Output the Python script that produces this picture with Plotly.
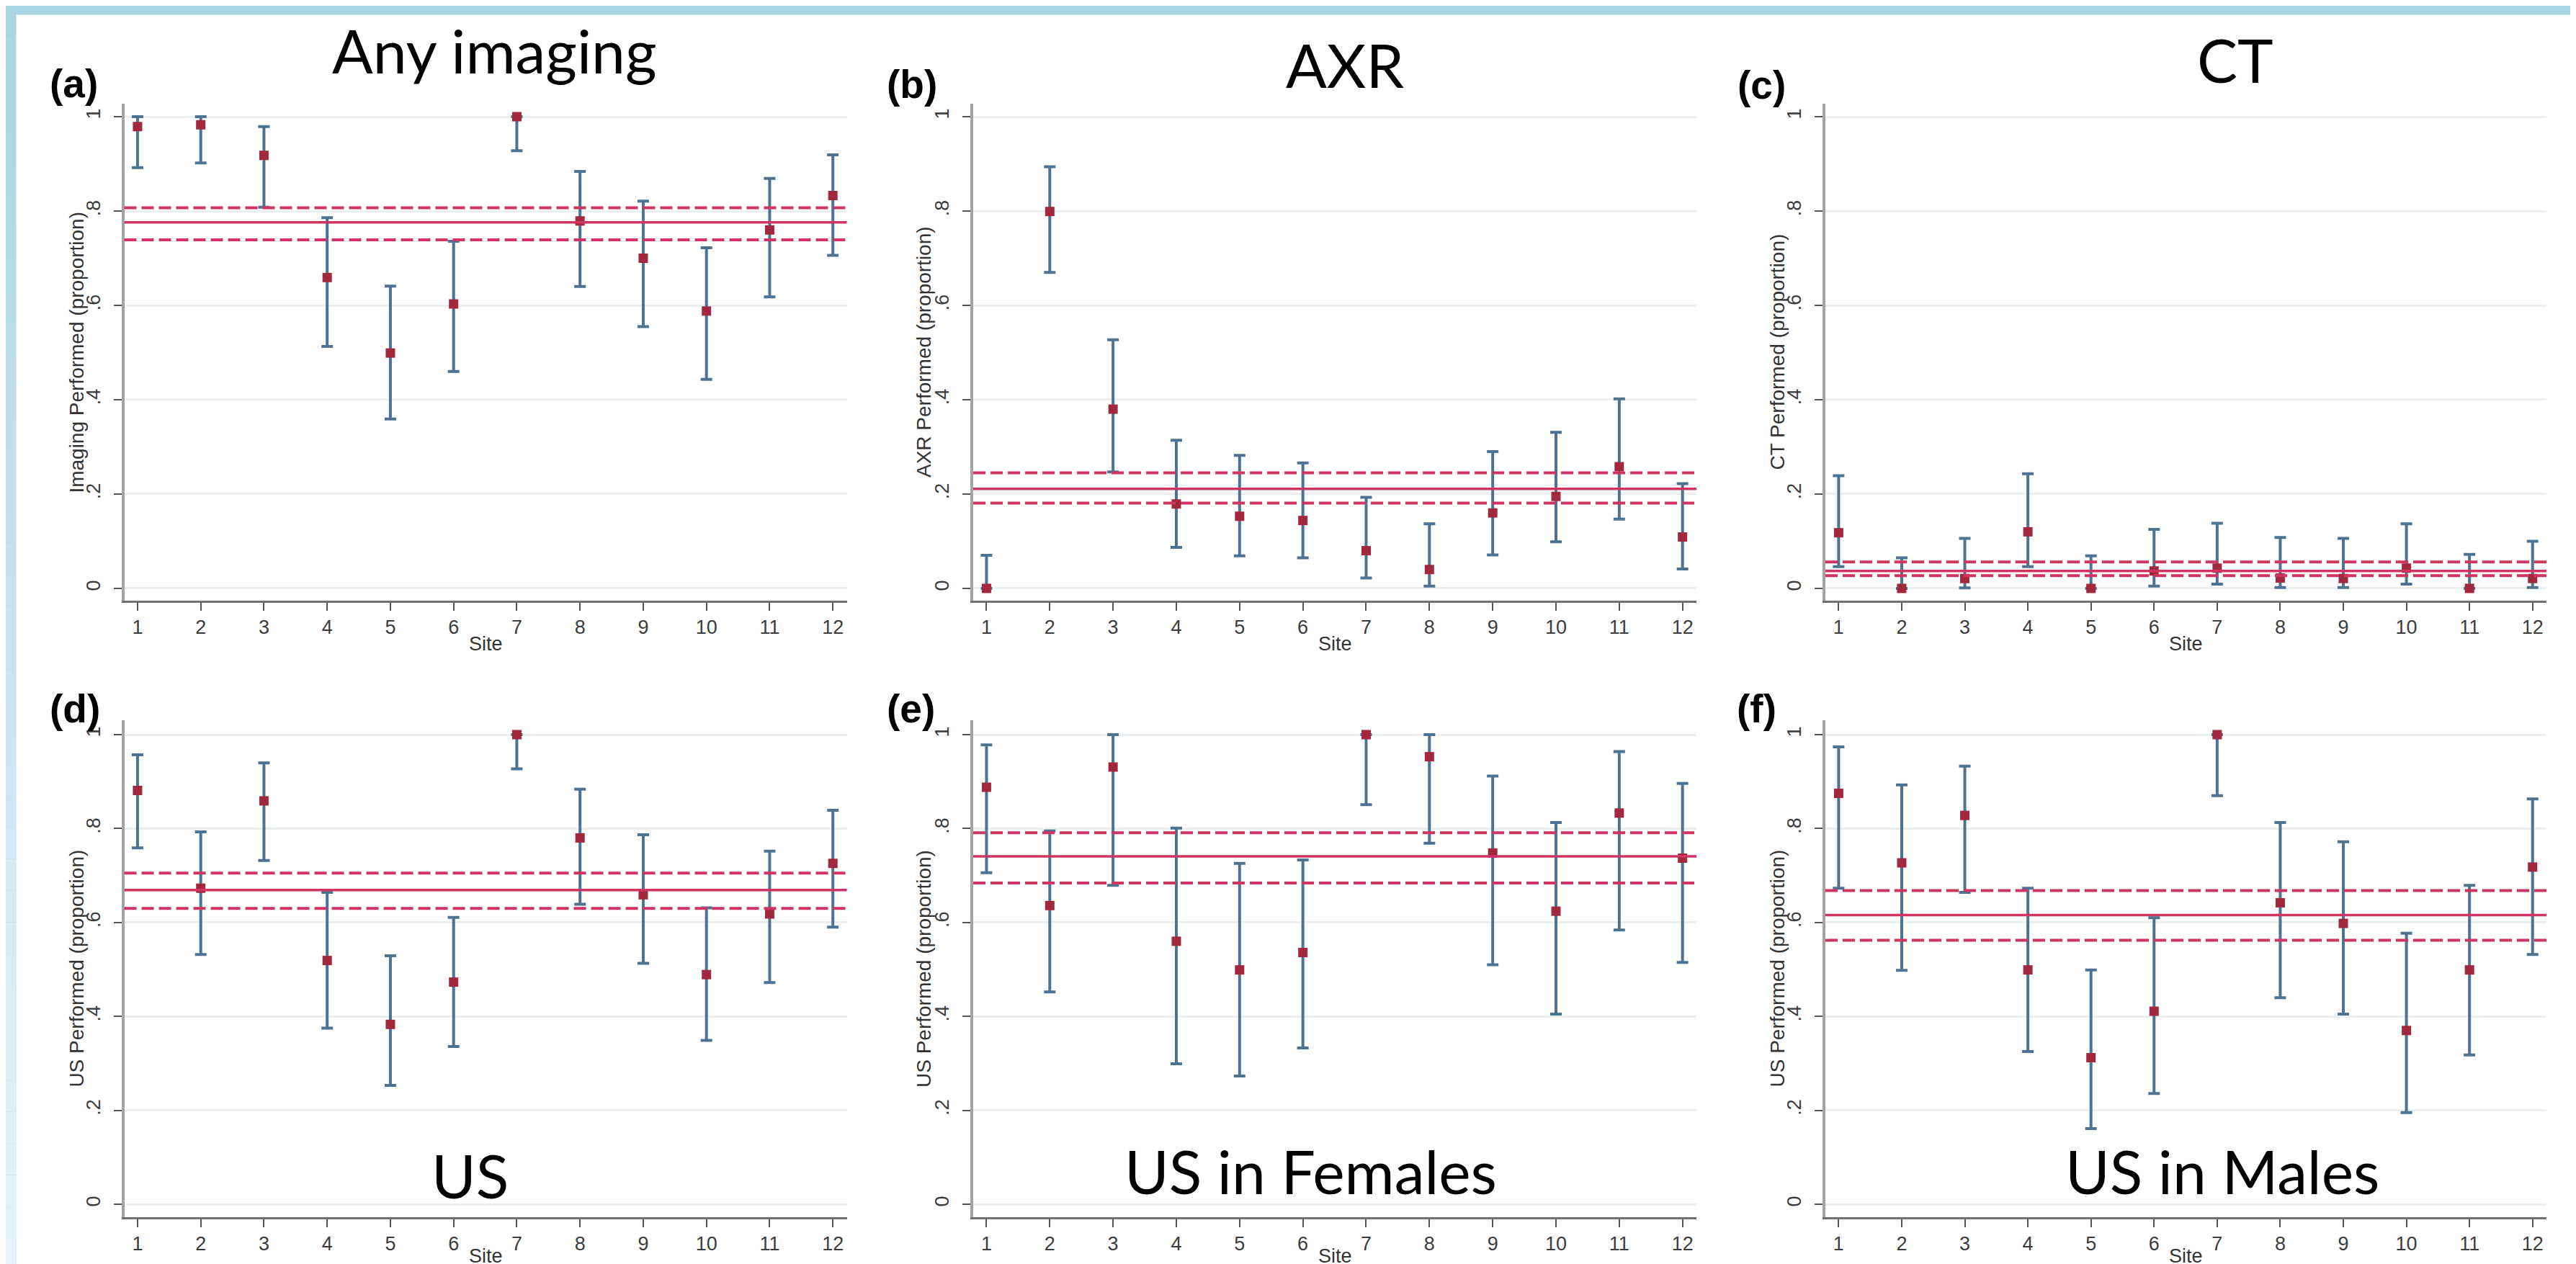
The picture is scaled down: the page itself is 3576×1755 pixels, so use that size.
import plotly.graph_objects as go

W, H = 3576, 1755

# ---------------- data ----------------
sites = list(range(1, 13))
y_tick_vals = [0, 0.2, 0.4, 0.6, 0.8, 1]
y_tick_text = ["0", ".2", ".4", ".6", ".8", "1"]

# (a) Any imaging
any_est = [0.979, 0.983, 0.918, 0.659, 0.499, 0.603, 1.0, 0.779, 0.700, 0.588, 0.760, 0.833]
any_lo = [0.892, 0.902, 0.808, 0.513, 0.359, 0.460, 0.928, 0.640, 0.555, 0.443, 0.618, 0.706]
any_hi = [1.0, 1.0, 0.979, 0.786, 0.641, 0.736, 1.0, 0.884, 0.821, 0.722, 0.869, 0.919]
any_pool = [0.776, 0.739, 0.807]  # pooled estimate, lower, upper

# (b) AXR
axr_est = [0.0, 0.799, 0.380, 0.179, 0.153, 0.144, 0.080, 0.040, 0.160, 0.195, 0.258, 0.109]
axr_lo = [0.0, 0.670, 0.247, 0.087, 0.069, 0.065, 0.022, 0.005, 0.071, 0.099, 0.147, 0.041]
axr_hi = [0.070, 0.894, 0.527, 0.314, 0.282, 0.266, 0.193, 0.137, 0.290, 0.331, 0.402, 0.222]
axr_pool = [0.211, 0.181, 0.245]

# (c) CT
ct_est = [0.118, 0.0, 0.021, 0.120, 0.0, 0.037, 0.043, 0.022, 0.021, 0.043, 0.0, 0.021]
ct_lo = [0.046, 0.0, 0.001, 0.046, 0.0, 0.005, 0.009, 0.002, 0.002, 0.009, 0.0, 0.002]
ct_hi = [0.239, 0.065, 0.106, 0.243, 0.069, 0.125, 0.138, 0.108, 0.106, 0.137, 0.072, 0.100]
ct_pool = [0.037, 0.027, 0.056]

# (d) US
us_est = [0.881, 0.673, 0.859, 0.519, 0.383, 0.473, 1.0, 0.780, 0.659, 0.489, 0.618, 0.726]
us_lo = [0.759, 0.532, 0.732, 0.375, 0.253, 0.336, 0.927, 0.639, 0.513, 0.349, 0.472, 0.590]
us_hi = [0.957, 0.793, 0.940, 0.664, 0.529, 0.611, 1.0, 0.884, 0.787, 0.631, 0.752, 0.839]
us_pool = [0.669, 0.630, 0.705]

# (e) US in Females
usf_est = [0.888, 0.636, 0.931, 0.560, 0.499, 0.536, 1.0, 0.953, 0.748, 0.624, 0.833, 0.737]
usf_lo = [0.706, 0.452, 0.679, 0.299, 0.273, 0.333, 0.851, 0.769, 0.510, 0.405, 0.584, 0.515]
usf_hi = [0.978, 0.795, 1.0, 0.801, 0.726, 0.733, 1.0, 1.0, 0.912, 0.813, 0.964, 0.896]
usf_pool = [0.741, 0.684, 0.791]

# (f) US in Males
usm_est = [0.875, 0.727, 0.828, 0.499, 0.312, 0.411, 1.0, 0.642, 0.598, 0.370, 0.499, 0.718]
usm_lo = [0.673, 0.498, 0.664, 0.325, 0.161, 0.236, 0.870, 0.440, 0.405, 0.195, 0.318, 0.532]
usm_hi = [0.974, 0.893, 0.933, 0.673, 0.499, 0.610, 1.0, 0.813, 0.772, 0.577, 0.679, 0.863]
usm_pool = [0.616, 0.562, 0.668]

panel_letters = ["(a)", "(b)", "(c)", "(d)", "(e)", "(f)"]
panel_titles = ["Any imaging", "AXR", "CT", "US", "US in Females", "US in Males"]
y_titles = ["Imaging Performed (proportion)", "AXR Performed (proportion)",
            "CT Performed (proportion)", "US Performed (proportion)",
            "US Performed (proportion)", "US Performed (proportion)"]
x_title = "Site"

series = [
    (any_est, any_lo, any_hi, any_pool),
    (axr_est, axr_lo, axr_hi, axr_pool),
    (ct_est, ct_lo, ct_hi, ct_pool),
    (us_est, us_lo, us_hi, us_pool),
    (usf_est, usf_lo, usf_hi, usf_pool),
    (usm_est, usm_lo, usm_hi, usm_pool),
]

# ---------------- layout (pixels) ----------------
col_px = [(164.5, 1167.5), (1343, 2347), (2526, 3527)]
row_px = [(136, 826), (992, 1682)]
row_yrange = [[-0.026, 1.0275], [-0.0276, 1.0307]]
x_range = [0.79, 12.22]

label_pos = [(94.5, 108), (1257.5, 109), (2437, 110), (95.5, 976), (1256.5, 976), (2430, 976)]
title_pos = [(678, 62), (1859, 82), (3095, 75), (644, 1623), (1811, 1617), (3077, 1617)]
ytitle_x = [97.6, 1274, 2458.5]
site_y = [886, 1736]


def fx(px):
    return px / W


def fy(py):
    return 1 - py / H


ERR_COL = "#4D7393"
MK_COL = "#A1283D"
LINE_COL = "#CF3560"
TICK_FONT = dict(family="Liberation Sans, Arial, sans-serif", size=27, color="#3c3c3c")

fig = go.Figure()
shapes = []
annotations = []

# background: light-blue frame with white page
n_grad = 40
top_c = (169, 213, 226)
bot_c = (229, 243, 248)
for i in range(n_grad):
    t = i / (n_grad - 1)
    c = tuple(int(round(top_c[k] + (bot_c[k] - top_c[k]) * t)) for k in range(3))
    col = "rgb(%d,%d,%d)" % c
    y0 = H * i / n_grad
    y1 = H * (i + 1) / n_grad
    for xa, xb in [(0, 14.5), (3569, W)]:
        shapes.append(dict(type="rect", xref="paper", yref="paper",
                           x0=fx(xa), x1=fx(xb), y0=fy(y1), y1=fy(y0),
                           fillcolor=col, line=dict(width=0), layer="below"))
shapes.append(dict(type="rect", xref="paper", yref="paper", x0=0, x1=1,
                   y0=fy(12.6), y1=1, fillcolor="rgb(169,213,226)",
                   line=dict(width=0), layer="below"))
shapes.append(dict(type="rect", xref="paper", yref="paper", x0=fx(14.5), x1=fx(3569),
                   y0=0, y1=fy(12.6), fillcolor="white",
                   line=dict(width=0), layer="below"))

for i, (est, lo, hi, pool) in enumerate(series):
    r, c = divmod(i, 3)
    ax = "" if i == 0 else str(i + 1)
    xa_name, ya_name = "xaxis" + ax, "yaxis" + ax
    xref, yref = "x" + ax, "y" + ax

    plus = [h - e for h, e in zip(hi, est)]
    minus = [e - l for e, l in zip(est, lo)]
    fig.add_trace(go.Scatter(
        x=sites, y=est, mode="markers", xaxis=xref, yaxis=yref,
        marker=dict(symbol="square", size=13, color=MK_COL),
        error_y=dict(type="data", symmetric=False, array=plus, arrayminus=minus,
                     color=ERR_COL, thickness=4, width=8),
        showlegend=False, hoverinfo="x+y"))

    # pooled estimate and CI lines
    for k, val in enumerate(pool):
        shapes.append(dict(type="line", xref=xref + " domain", yref=yref,
                           x0=0, x1=1, y0=val, y1=val,
                           line=dict(color=LINE_COL, width=3.5 if k == 0 else 4,
                                     dash="solid" if k == 0 else "17px,7px"),
                           layer="above"))

    cx0, cx1 = col_px[c]
    ry0, ry1 = row_px[r]
    fig.layout[xa_name] = dict(
        domain=[fx(cx0), fx(cx1)], range=x_range, anchor=yref,
        tickmode="array", tickvals=sites, ticktext=[str(s) for s in sites],
        ticks="outside", ticklen=11, tickwidth=2, tickcolor="#555",
        showline=True, linecolor="#707070", linewidth=3,
        showgrid=False, zeroline=False, tickfont=TICK_FONT)
    fig.layout[ya_name] = dict(
        domain=[fy(ry1), fy(ry0)], range=row_yrange[r], anchor=xref,
        tickmode="array", tickvals=y_tick_vals, ticktext=y_tick_text,
        tickangle=-90, ticks="outside", ticklen=11, tickwidth=2, tickcolor="#555",
        ticklabelstandoff=8,
        showline=True, linecolor="#a3a3a3", linewidth=4,
        showgrid=True, gridcolor="#ECEFEF", gridwidth=3,
        zeroline=False, tickfont=TICK_FONT)

    # panel letter
    lx, ly = label_pos[i]
    annotations.append(dict(xref="paper", yref="paper", x=fx(lx), y=fy(ly),
                            text="<b>" + panel_letters[i] + "</b>", showarrow=False,
                            xanchor="center", yanchor="middle",
                            font=dict(family="Liberation Sans, Arial", size=55, color="black")))
    # big title
    tx, ty = title_pos[i]
    annotations.append(dict(xref="paper", yref="paper", x=fx(tx), y=fy(ty),
                            text=panel_titles[i], showarrow=False,
                            xanchor="center", yanchor="middle",
                            font=dict(family="Lato, Carlito, sans-serif", size=84, color="black")))
    # y title
    annotations.append(dict(xref="paper", yref="paper", x=fx(ytitle_x[c]),
                            y=fy((ry0 + ry1) / 2), text=y_titles[i], textangle=-90,
                            showarrow=False, xanchor="center", yanchor="middle",
                            font=dict(family="Liberation Sans, Arial", size=28, color="#333")))
    # x title
    annotations.append(dict(xref="paper", yref="paper", x=fx((cx0 + cx1) / 2),
                            y=fy(site_y[r]), text=x_title, showarrow=False,
                            xanchor="center", yanchor="middle",
                            font=dict(family="Liberation Sans, Arial", size=27, color="#333")))

fig.update_layout(
    width=W, height=H, margin=dict(l=0, r=0, t=0, b=0),
    paper_bgcolor="rgb(169,213,226)", plot_bgcolor="rgba(0,0,0,0)",
    shapes=shapes, annotations=annotations, showlegend=False)

fig.write_html("out.html")
